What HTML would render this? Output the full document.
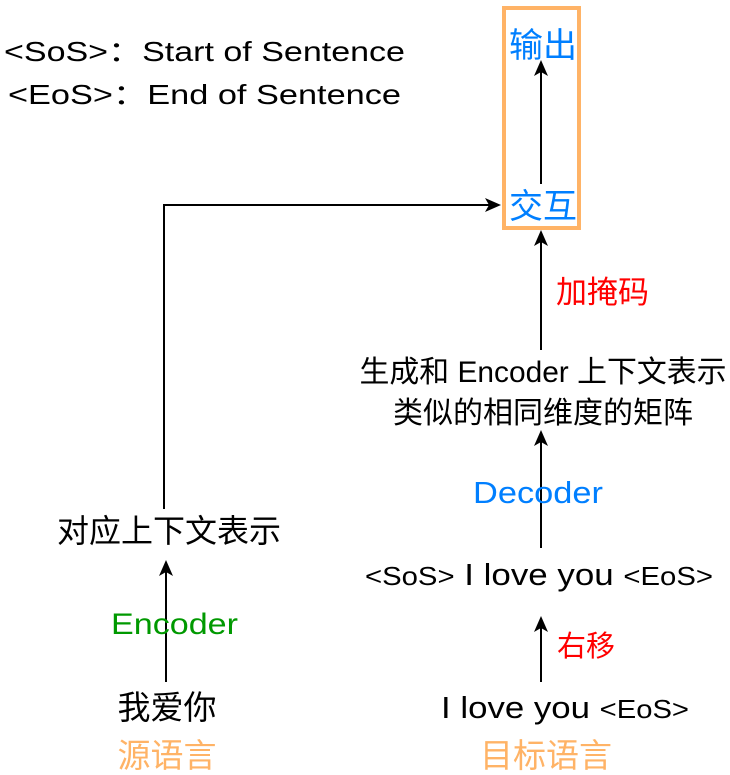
<!DOCTYPE html>
<html><head><meta charset="utf-8"><style>
html,body{margin:0;padding:0;background:#fff;}
svg{display:block;}
text{font-family:"Liberation Sans","Noto Sans CJK SC",sans-serif;}
</style></head><body>
<svg width="730" height="775" viewBox="0 0 730 775" xmlns="http://www.w3.org/2000/svg">
<!-- legend -->
<text x="4" y="61" font-size="28" textLength="401" lengthAdjust="spacingAndGlyphs">&lt;SoS&gt;：Start of Sentence</text>
<text x="8" y="104" font-size="28" textLength="393" lengthAdjust="spacingAndGlyphs">&lt;EoS&gt;：End of Sentence</text>

<!-- output box -->
<rect x="504" y="8" width="75" height="220" fill="none" stroke="#FFB366" stroke-width="4"/>
<text x="543" y="57" font-size="34" fill="#007FFF" text-anchor="middle">输出</text>
<text x="543" y="218" font-size="34" fill="#007FFF" text-anchor="middle">交互</text>
<line x1="541" y1="184" x2="541" y2="70" stroke="#000" stroke-width="2"/>
<polygon points="541,60 534,76 541,72 548,76" fill="#000"/>

<!-- left path -->
<polyline points="164,509 164,205 490,205" fill="none" stroke="#000" stroke-width="2"/>
<polygon points="501,205 485,198 489,205 485,212" fill="#000"/>

<!-- mask arrow -->
<line x1="541" y1="350" x2="541" y2="240" stroke="#000" stroke-width="2"/>
<polygon points="541,230 534,246 541,242 548,246" fill="#000"/>
<text x="556" y="303" font-size="31" fill="#FF0000">加掩码</text>

<text x="543" y="382" font-size="30" text-anchor="middle" textLength="367" lengthAdjust="spacingAndGlyphs">生成和 Encoder 上下文表示</text>
<text x="543" y="423" font-size="30" text-anchor="middle">类似的相同维度的矩阵</text>

<!-- decoder arrow -->
<line x1="541" y1="548" x2="541" y2="440" stroke="#000" stroke-width="2"/>
<polygon points="541,430 534,446 541,442 548,446" fill="#000"/>
<text x="473" y="503" font-size="31" fill="#007FFF" textLength="130" lengthAdjust="spacingAndGlyphs">Decoder</text>

<text x="365" y="585" font-size="31" textLength="348" lengthAdjust="spacingAndGlyphs"><tspan font-size="26">&lt;SoS&gt;</tspan> I love you <tspan font-size="26">&lt;EoS&gt;</tspan></text>

<!-- shift arrow -->
<line x1="541" y1="682" x2="541" y2="626" stroke="#000" stroke-width="2"/>
<polygon points="541,616 534,632 541,628 548,632" fill="#000"/>
<text x="557" y="656" font-size="29" fill="#FF0000">右移</text>

<text x="441" y="718" font-size="31" textLength="248" lengthAdjust="spacingAndGlyphs">I love you <tspan font-size="26">&lt;EoS&gt;</tspan></text>
<text x="546" y="767" font-size="33" fill="#FFB366" text-anchor="middle">目标语言</text>

<!-- left column -->
<text x="169" y="542" font-size="32" text-anchor="middle">对应上下文表示</text>
<line x1="166" y1="682" x2="166" y2="570" stroke="#000" stroke-width="2"/>
<polygon points="166,560 159,576 166,572 173,576" fill="#000"/>
<text x="111" y="634" font-size="30" fill="#009900" textLength="127" lengthAdjust="spacingAndGlyphs">Encoder</text>
<text x="167" y="719" font-size="33" text-anchor="middle">我爱你</text>
<text x="167" y="767" font-size="33" fill="#FFB366" text-anchor="middle">源语言</text>
</svg>
</body></html>
